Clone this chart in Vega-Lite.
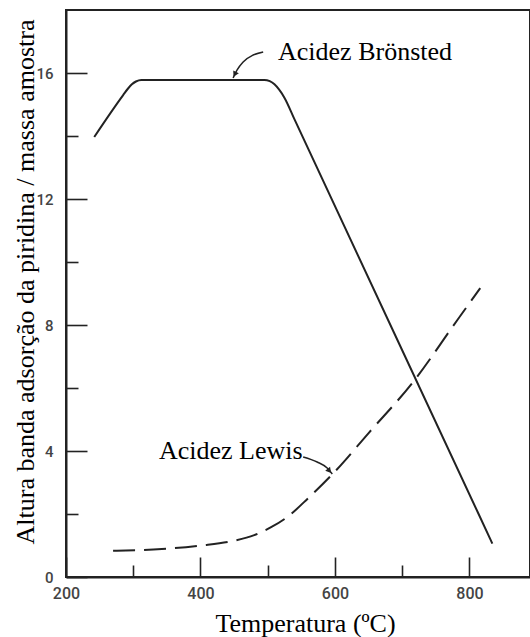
{
  "$schema": "https://vega.github.io/schema/vega-lite/v6.json",
  "width": 464,
  "height": 567,
  "autosize": {"type": "none"},
  "padding": {"left": 66, "top": 10, "right": 0, "bottom": 60},
  "background": "white",
  "config": {
    "view": {"stroke": "#222", "strokeWidth": 2},
    "axis": {
      "grid": false,
      "domainColor": "#222",
      "domainWidth": 2,
      "tickColor": "#222",
      "tickWidth": 1.6,
      "labelFont": "Roboto",
      "labelColor": "#444",
      "labelFontWeight": 500,
      "titleFont": "Liberation Serif",
      "titleFontWeight": "normal",
      "titleColor": "#000",
      "titleFontSize": 26
    }
  },
  "datasets": {
    "bronsted": [
      {"T": 242, "v": 13.97}, {"T": 285, "v": 15.3}, {"T": 292, "v": 15.5},
      {"T": 298, "v": 15.64}, {"T": 304, "v": 15.73}, {"T": 312, "v": 15.78},
      {"T": 325, "v": 15.78}, {"T": 495, "v": 15.78}, {"T": 503, "v": 15.74},
      {"T": 510, "v": 15.64}, {"T": 517, "v": 15.47}, {"T": 525, "v": 15.21},
      {"T": 540, "v": 14.52}, {"T": 812, "v": 2.07}, {"T": 834, "v": 1.06}
    ],
    "lewis": [
      {"T": 270, "v": 0.83}, {"T": 330, "v": 0.87}, {"T": 400, "v": 1.0},
      {"T": 450, "v": 1.15}, {"T": 480, "v": 1.33}, {"T": 505, "v": 1.58},
      {"T": 530, "v": 1.92}, {"T": 560, "v": 2.5}, {"T": 600, "v": 3.35},
      {"T": 650, "v": 4.57}, {"T": 715, "v": 6.16}, {"T": 782, "v": 8.16},
      {"T": 816, "v": 9.17}
    ],
    "arrowB": [
      {"T": 493.2, "v": 16.67}, {"T": 478.3, "v": 16.57}, {"T": 463.4, "v": 16.35},
      {"T": 454.5, "v": 16.1}, {"T": 448.5, "v": 15.84}
    ],
    "arrowL": [
      {"T": 552.7, "v": 3.81}, {"T": 573.5, "v": 3.65}, {"T": 588.4, "v": 3.46},
      {"T": 596, "v": 3.27}
    ],
    "headB": [{"T": 451, "v": 15.96}],
    "headL": [{"T": 591.7, "v": 3.37}],
    "labels": [
      {"T": 515.3, "v": 16.41, "label": "Acidez Brönsted"},
      {"T": 338.3, "v": 3.75, "label": "Acidez Lewis"}
    ]
  },
  "layer": [
    {
      "data": {"name": "bronsted"},
      "mark": {"type": "line", "color": "#222", "strokeWidth": 2, "interpolate": "monotone"},
      "encoding": {
        "x": {
          "field": "T", "type": "quantitative",
          "scale": {"domain": [200, 890], "nice": false, "zero": false},
          "axis": {
            "orient": "bottom",
            "values": [200, 400, 600, 800],
            "tickSize": -20,
            "labelPadding": 28,
            "labelFontSize": 16,
            "labelFlush": false,
            "title": "Temperatura (ºC)",
            "titleX": 239,
            "titleY": 54,
            "titleAlign": "center",
            "titleBaseline": "alphabetic"
          }
        },
        "y": {
          "field": "v", "type": "quantitative",
          "scale": {"domain": [0, 18], "nice": false, "zero": false},
          "axis": {
            "orient": "left",
            "values": [0, 4, 8, 12, 16],
            "tickSize": -21,
            "labelPadding": 34,
            "labelFontSize": 15,
            "title": "Altura banda adsorção da piridina / massa amostra",
            "titleX": -33,
            "titleY": 271.5,
            "titleAngle": -90,
            "titleAlign": "center",
            "titleBaseline": "alphabetic"
          }
        }
      }
    },
    {
      "data": {"name": "lewis"},
      "mark": {"type": "line", "color": "#222", "strokeWidth": 2, "interpolate": "monotone", "strokeDash": [22, 9]},
      "encoding": {
        "x": {
          "field": "T", "type": "quantitative",
          "axis": {"orient": "bottom", "values": [300, 500, 700], "tickSize": -12, "labels": false, "domain": false, "title": null}
        },
        "y": {
          "field": "v", "type": "quantitative",
          "axis": {"orient": "left", "values": [2, 6, 10, 14], "tickSize": -12, "labels": false, "domain": false, "title": null}
        }
      }
    },
    {
      "data": {"name": "arrowB"},
      "mark": {"type": "line", "color": "#222", "strokeWidth": 1.5, "interpolate": "monotone"},
      "encoding": {
        "x": {"field": "T", "type": "quantitative", "axis": null},
        "y": {"field": "v", "type": "quantitative", "axis": null}
      }
    },
    {
      "data": {"name": "arrowL"},
      "mark": {"type": "line", "color": "#222", "strokeWidth": 1.5, "interpolate": "monotone"},
      "encoding": {
        "x": {"field": "T", "type": "quantitative", "axis": null},
        "y": {"field": "v", "type": "quantitative", "axis": null}
      }
    },
    {
      "data": {"name": "headB"},
      "mark": {"type": "point", "shape": "triangle-down", "filled": true, "color": "#222", "size": 40, "angle": 27, "opacity": 1},
      "encoding": {
        "x": {"field": "T", "type": "quantitative", "axis": null},
        "y": {"field": "v", "type": "quantitative", "axis": null}
      }
    },
    {
      "data": {"name": "headL"},
      "mark": {"type": "point", "shape": "triangle-down", "filled": true, "color": "#222", "size": 40, "angle": -40, "opacity": 1},
      "encoding": {
        "x": {"field": "T", "type": "quantitative", "axis": null},
        "y": {"field": "v", "type": "quantitative", "axis": null}
      }
    },
    {
      "data": {"name": "labels"},
      "mark": {"type": "text", "align": "left", "baseline": "alphabetic", "font": "Liberation Serif", "fontSize": 26, "color": "#000"},
      "encoding": {
        "x": {"field": "T", "type": "quantitative", "axis": null},
        "y": {"field": "v", "type": "quantitative", "axis": null},
        "text": {"field": "label"}
      }
    }
  ],
  "resolve": {"axis": {"x": "independent", "y": "independent"}}
}
